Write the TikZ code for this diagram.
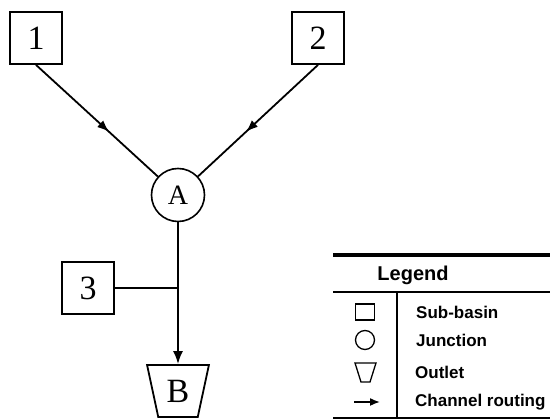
\documentclass[tikz,border=0pt]{standalone}
\usepackage{fontspec}
\setmainfont{Liberation Serif}
\newfontfamily\legendfont{Liberation Sans}
\usepackage{tikz}
\usetikzlibrary{shapes.geometric,arrows.meta,decorations.markings,calc}

\tikzset{
	basin/.style={draw, line width=1.8pt, minimum width=52pt, minimum height=52pt, inner sep=0, font=\fontsize{34}{34}\selectfont},
	junction/.style={draw, circle, line width=1.6pt, minimum size=53pt, inner sep=0, font=\fontsize{28}{28}\selectfont},
	outlet/.style={draw, trapezium, shape border rotate=180, trapezium stretches=true, trapezium angle=74, line width=1.8pt, minimum width=62pt, minimum height=52pt, inner sep=0, font=\fontsize{34}{34}\selectfont},
	route/.style={line width=1.8pt},
	midarrow/.style={route, postaction={decorate}, decoration={markings, mark=at position 0.6 with {\arrow{Latex[length=12pt,width=9pt]}}}},
	legtext/.style={anchor=west, font=\legendfont\bfseries\fontsize{17}{17}\selectfont, inner sep=0}
}

\begin{document}
\begin{tikzpicture}[x=1pt, y=-1pt]
			\useasboundingbox (0,0) rectangle (550,419);

			\node[basin] (b1) at (36,38) {1};
			\node[basin] (b2) at (318,38) {2};
			\node[junction] (A) at (178,195) {A};
			\node[basin] (b3) at (88,288) {3};
			\node[outlet] (B) at (178,391) {B};
			\coordinate (j) at (178,288);

			\draw[midarrow] (b1.south) -- (A);
			\draw[midarrow] (b2.south) -- (A);
			\draw[route] (A) -- (j);
			\draw[route] (b3.east) -- (j);
			\draw[route, -{Latex[length=13pt,width=10pt]}] (j) -- (B.north);

			% Legend
			\draw[line width=3.5pt] (333,255) -- (550,255);
			\node[font=\legendfont\bfseries\fontsize{20}{20}\selectfont] (leg) at (413,275) {Legend};
			\draw[line width=1.5pt] (333,292) -- (550,292);
			\draw[line width=1.5pt] (397,292) -- (397,418);
			\draw[line width=2.5pt] (333,418) -- (550,418);

			\node[draw, line width=1.3pt, minimum width=19pt, minimum height=16pt, inner sep=0] (s1) at (365,312) {};
			\node[draw, circle, line width=1.3pt, minimum size=19pt, inner sep=0] (s2) at (365,340) {};
			\draw[line width=1.3pt] (355,363) -- (376,363) -- (370,382) -- (361,382) -- cycle;
			\coordinate (s4a) at (354,402);
			\coordinate (s4b) at (380,402);
			\draw[line width=1.6pt, -{Latex[length=10pt,width=8pt]}] (s4a) -- (s4b);

			\node[legtext] (t1) at (416,312) {Sub-basin};
			\node[legtext] (t2) at (416,340) {Junction};
			\node[legtext] (t3) at (415,372) {Outlet};
			\node[legtext] (t4) at (415,402) {Channel routing};
		\end{tikzpicture}
\end{document}
